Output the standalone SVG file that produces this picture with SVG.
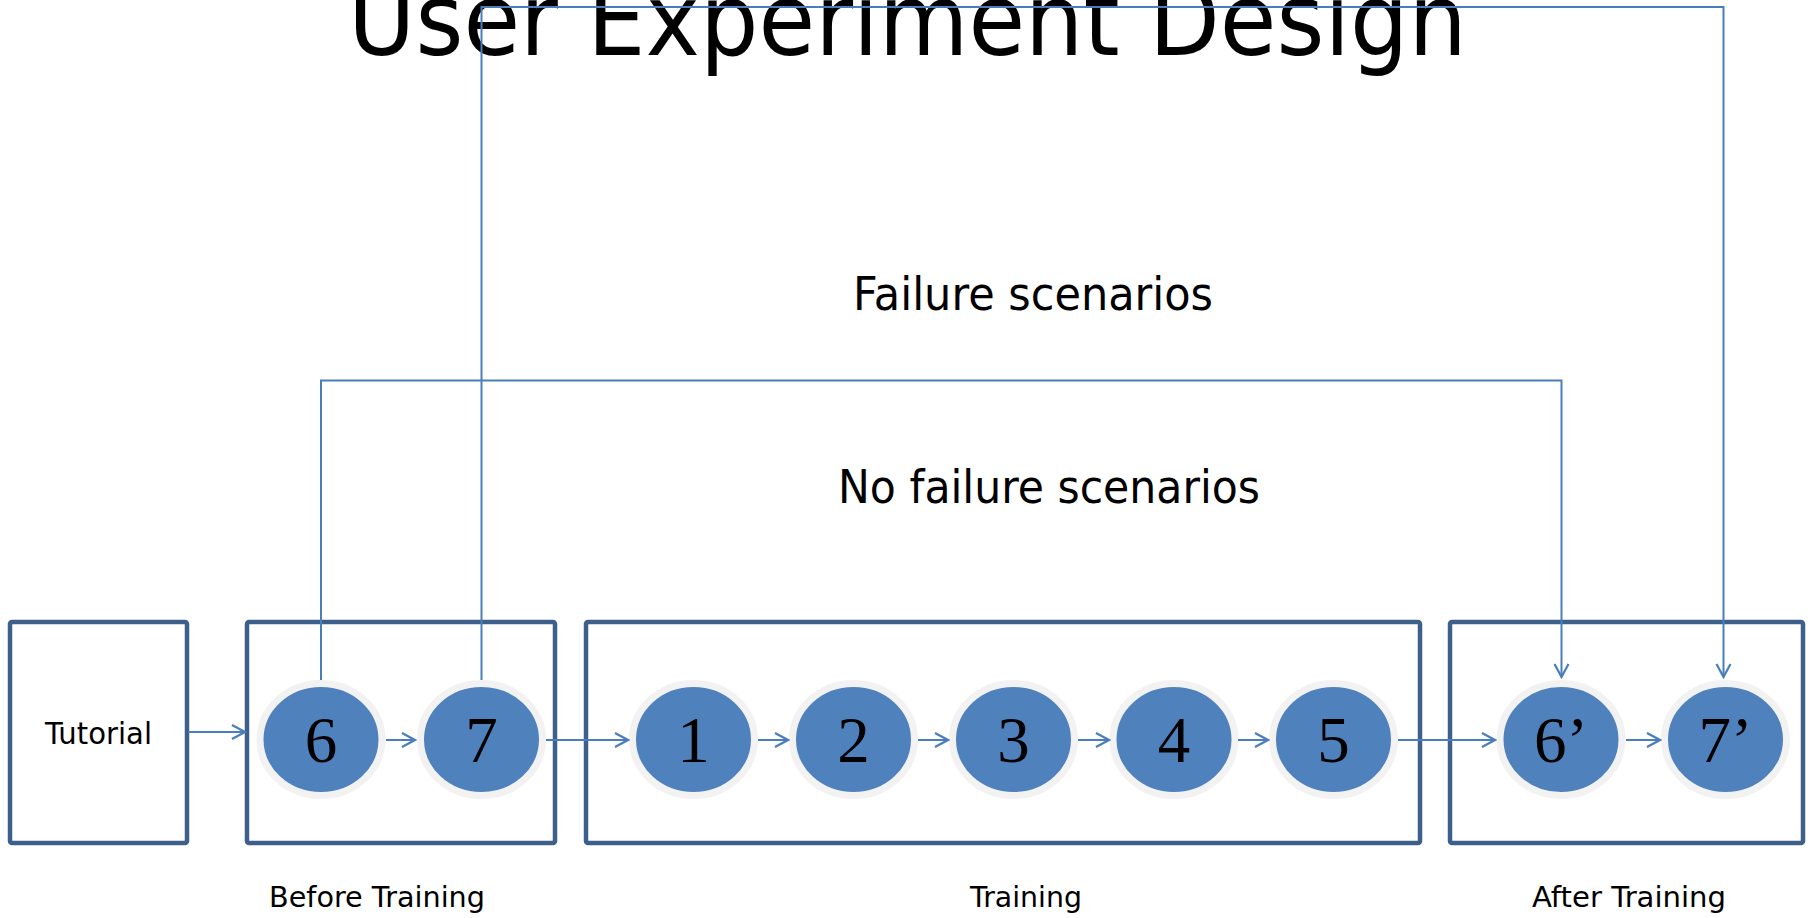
<svg xmlns="http://www.w3.org/2000/svg" width="1810" height="918" viewBox="0 0 1810 918">
  <style>
    .frame { fill: #ffffff; stroke: #3C5F8C; stroke-width: 4.5; }
    .step { fill: #4F81BD; stroke: #F2F2F2; stroke-width: 7; }
    .num { font-family: "Liberation Serif", "Times New Roman", serif; font-size: 65px; fill: #000000; text-anchor: middle; }
    .lbl { font-family: "DejaVu Sans", Tahoma, sans-serif; fill: #000000; }
    .wire { fill: none; stroke: #4A7EBB; stroke-width: 2; }
  </style>
  <defs>
    <marker id="chev" markerUnits="userSpaceOnUse" viewBox="-15 -9 17 18" markerWidth="17" markerHeight="18" refX="0" refY="0" orient="auto">
      <path d="M-13,-7 L0,0 L-13,7" fill="none" stroke="#4A7EBB" stroke-width="2.2"/>
    </marker>
  </defs>
  <rect width="1810" height="918" fill="#ffffff"/>

  <!-- headings -->
  <text class="lbl" x="348" y="55" font-size="100" textLength="1119" lengthAdjust="spacingAndGlyphs">User Experiment Design</text>
  <text class="lbl" x="853" y="310" font-size="47" textLength="360" lengthAdjust="spacingAndGlyphs">Failure scenarios</text>
  <text class="lbl" x="838" y="503" font-size="47" textLength="422" lengthAdjust="spacingAndGlyphs">No failure scenarios</text>

  <!-- phase frames -->
  <g id="tutorial">
    <rect class="frame" x="10" y="622" width="177" height="221" rx="2"/>
    <text class="lbl" x="45" y="744" font-size="30" textLength="107" lengthAdjust="spacingAndGlyphs">Tutorial</text>
  </g>
  <g id="before-training">
    <rect class="frame" x="247" y="622" width="308" height="221" rx="2"/>
    <text class="lbl" x="269" y="907" font-size="29" textLength="216" lengthAdjust="spacingAndGlyphs">Before Training</text>
  </g>
  <g id="training">
    <rect class="frame" x="586" y="622" width="834" height="221" rx="2"/>
    <text class="lbl" x="970" y="907" font-size="29" textLength="112" lengthAdjust="spacingAndGlyphs">Training</text>
  </g>
  <g id="after-training">
    <rect class="frame" x="1450" y="622" width="353" height="221" rx="2"/>
    <text class="lbl" x="1532" y="907" font-size="29" textLength="194" lengthAdjust="spacingAndGlyphs">After Training</text>
  </g>

  <!-- scenario steps -->
  <g id="s6"><ellipse class="step" cx="321" cy="739.5" rx="61" ry="56"/><text class="num" x="321" y="762">6</text></g>
  <g id="s7"><ellipse class="step" cx="481.5" cy="739.5" rx="61" ry="56"/><text class="num" x="481.5" y="762">7</text></g>
  <g id="s1"><ellipse class="step" cx="693.5" cy="739.5" rx="61" ry="56"/><text class="num" x="693.5" y="762">1</text></g>
  <g id="s2"><ellipse class="step" cx="853.5" cy="739.5" rx="61" ry="56"/><text class="num" x="853.5" y="762">2</text></g>
  <g id="s3"><ellipse class="step" cx="1013.5" cy="739.5" rx="61" ry="56"/><text class="num" x="1013.5" y="762">3</text></g>
  <g id="s4"><ellipse class="step" cx="1174" cy="739.5" rx="61" ry="56"/><text class="num" x="1174" y="762">4</text></g>
  <g id="s5"><ellipse class="step" cx="1333.5" cy="739.5" rx="61" ry="56"/><text class="num" x="1333.5" y="762">5</text></g>
  <g id="s6p"><ellipse class="step" cx="1561" cy="739.5" rx="61" ry="56"/><text class="num" x="1561" y="762">6’</text></g>
  <g id="s7p"><ellipse class="step" cx="1725.5" cy="739.5" rx="61" ry="56"/><text class="num" x="1725.5" y="762">7’</text></g>

  <!-- connectors -->
  <g id="connectors">
    <path class="wire" marker-end="url(#chev)" d="M188,732 H245"/>
    <path class="wire" marker-end="url(#chev)" d="M386,740 H415"/>
    <path class="wire" marker-end="url(#chev)" d="M546,740 H628"/>
    <path class="wire" marker-end="url(#chev)" d="M758,740 H788"/>
    <path class="wire" marker-end="url(#chev)" d="M918,740 H948"/>
    <path class="wire" marker-end="url(#chev)" d="M1078,740 H1109"/>
    <path class="wire" marker-end="url(#chev)" d="M1238,740 H1268"/>
    <path class="wire" marker-end="url(#chev)" d="M1398,740 H1495"/>
    <path class="wire" marker-end="url(#chev)" d="M1626,740 H1660"/>
    <path class="wire" marker-end="url(#chev)" d="M321,680 V380.5 H1561.5 V677"/>
    <path class="wire" marker-end="url(#chev)" d="M481.5,680 V7 H1723.5 V677"/>
  </g>
</svg>
